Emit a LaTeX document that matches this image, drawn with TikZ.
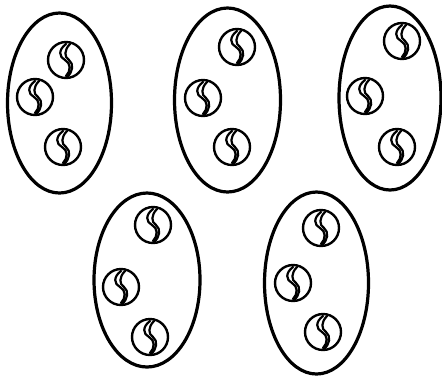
\documentclass[tikz,border=0pt]{standalone}
\tikzset{
  bag/.style={line width=1.6pt, draw=black},
  rim/.style={line width=1.2pt, draw=black},
  swirl/.style={line width=1.1pt, draw=black, line cap=round},
  marble/.pic={
    \draw[rim] (0,0) circle (18);
    \draw[swirl] (0,-16) .. controls (-8,-10) and (-7,-3) .. (-1,0) .. controls (5,3) and (5,11) .. (0,16);
    \draw[swirl] (4,-16) .. controls (-2,-10) and (-2,-3) .. (3,0) .. controls (8,4) and (7,12) .. (1,17);
    \fill (-1,15) -- (0,16) .. controls (5,11) and (5,3) .. (-1,0) -- (0,0) .. controls (6,4) and (6,11) .. (1,17) -- cycle;
  }
}
\begin{document}
\begin{tikzpicture}[x=0.5pt,y=-0.5pt]
\useasboundingbox (0,0) rectangle (442,377);
% bag 1
\draw[bag] (59.5,103) ellipse [x radius=52, y radius=90];
\pic at (66,60) {marble};
\pic at (35,97) {marble};
\pic at (63,147) {marble};
% bag 2
\draw[bag] (227.5,100) ellipse [x radius=53, y radius=92];
\pic at (237,47) {marble};
\pic at (203,98) {marble};
\pic at (232,147) {marble};
% bag 3
\draw[bag] (390,98) ellipse [x radius=51, y radius=92];
\pic at (402,41) {marble};
\pic at (365,96) {marble};
\pic at (397,147) {marble};
% bag 4
\draw[bag] (147,280) ellipse [x radius=53, y radius=87];
\pic at (153,225) {marble};
\pic at (121,287) {marble};
\pic at (150,337) {marble};
% bag 5
\draw[bag] (316.5,283) ellipse [x radius=52, y radius=91];
\pic at (321,228) {marble};
\pic at (293,283) {marble};
\pic at (323,332) {marble};
\end{tikzpicture}
\end{document}
